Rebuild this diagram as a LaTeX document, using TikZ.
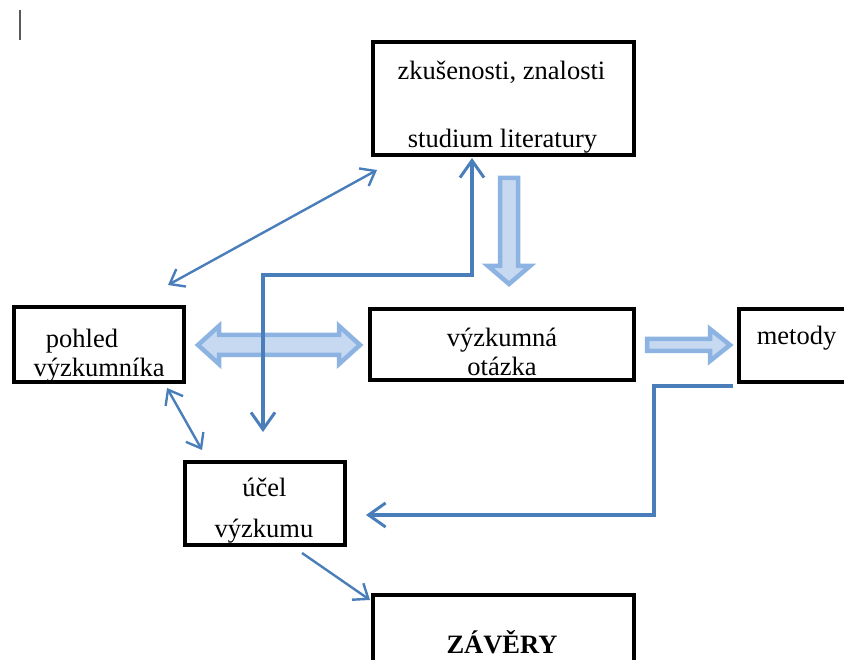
\documentclass[tikz,border=0pt]{standalone}
\usepackage{fontspec}
\setmainfont{Liberation Serif}
\usetikzlibrary{arrows.meta,calc}
\definecolor{conblue}{HTML}{4A7EBB}
\definecolor{fatfill}{HTML}{C6D9F1}
\definecolor{fatline}{HTML}{8DB3E2}
\tikzset{
  box/.style={draw=black, line width=4pt, inner sep=0pt, outer sep=0pt, fill=white},
  txt/.style={anchor=base, inner sep=0pt, font=\fontsize{26.5}{30}\selectfont},
  con/.style={draw=conblue, line width=3.4pt, line join=miter},
  thincon/.style={draw=conblue, line width=2.4pt},
  bigtip/.style={arrows={-Straight Barb[length=17pt,width=24pt,line width=3pt]}},
  bigtips/.style={arrows={Straight Barb[length=17pt,width=24pt,line width=3pt]-Straight Barb[length=17pt,width=24pt,line width=3pt]}},
  smalltip/.style={arrows={-Straight Barb[length=13pt,width=20pt,line width=2.4pt]}},
  smalltips/.style={arrows={Straight Barb[length=13pt,width=20pt,line width=2.4pt]-Straight Barb[length=13pt,width=20pt,line width=2.4pt]}},
  fatarrow/.style={draw=fatline, fill=fatfill, line width=4.5pt, line join=miter}
}
\begin{document}
\begin{tikzpicture}[x=1pt,y=-1pt]
\useasboundingbox (0,0) rectangle (844,660);
\clip (0,0) rectangle (844,660);
\fill[white] (0,0) rectangle (844,660);
% cursor mark
\draw[black!65, line width=1.5pt] (20,10) -- (20,40);
% boxes
\node[box, minimum width=261pt, minimum height=113pt] (top) at (503.5,98.5) {};
\node[box, minimum width=170pt, minimum height=75pt] (pohled) at (99,344.5) {};
\node[box, minimum width=264pt, minimum height=71pt] (otazka) at (502,344.5) {};
\node[box, minimum width=116pt, minimum height=73pt] (metody) at (797,345.5) {};
\node[box, minimum width=160pt, minimum height=83pt] (ucel) at (265,503.5) {};
\node[box, minimum width=261pt, minimum height=114pt] (zavery) at (503.5,652) {};
% texts
\node[txt] (t1) at (501.5,79.3) {zkušenosti, znalosti};
\node[txt] (t2) at (502.5,148) {studium literatury};
\node[txt] (t3) at (82,348) {pohled};
\node[txt] (t4) at (99,377) {výzkumníka};
\node[txt] (t5) at (502,347) {výzkumná};
\node[txt] (t6) at (502,376) {otázka};
\node[txt] (t7) at (796.5,345) {metody};
\node[txt] (t8) at (264.5,496) {účel};
\node[txt] (t9) at (264,537) {výzkumu};
\node[txt, font=\fontsize{26.5}{30}\selectfont\bfseries] (t10) at (502,653) {ZÁVĚRY};
% fat arrows
\draw[fatarrow] (500,178) -- (518,178) -- (518,266) -- (530,266) -- (509,284) -- (488,266) -- (500,266) -- cycle;
\draw[fatarrow] (198,345) -- (219,326) -- (219,335) -- (339,335) -- (339,326) -- (360,345) -- (339,364) -- (339,355) -- (219,355) -- (219,364) -- cycle;
\draw[fatarrow] (647,339) -- (710,339) -- (710,329) -- (730,345) -- (710,361) -- (710,351) -- (647,351) -- cycle;
% thin connectors
\draw[thincon, smalltips] ($(pohled.north east)+(-16,-22)$) -- ($(top.south west)+(4,15)$);
\draw[con, bigtips] ($(top.south)+(-31.5,3)$) |- ($(ucel.north)+(-2,-187)$) -- ($(ucel.north)+(-2,-30)$);
\draw[thincon, smalltips] ($(pohled.south east)+(-17,6)$) -- ($(ucel.north west)+(17,-12)$);
\draw[thincon, smalltip] ($(ucel.south)+(37,8)$) -- ($(zavery.north west)+(-3,5)$);
\draw[con, bigtip] ($(metody.south west)+(-6,4)$) -| ($(ucel.east)+(309,11.5)$) -- ($(ucel.east)+(21,11.5)$);
\end{tikzpicture}
\end{document}
